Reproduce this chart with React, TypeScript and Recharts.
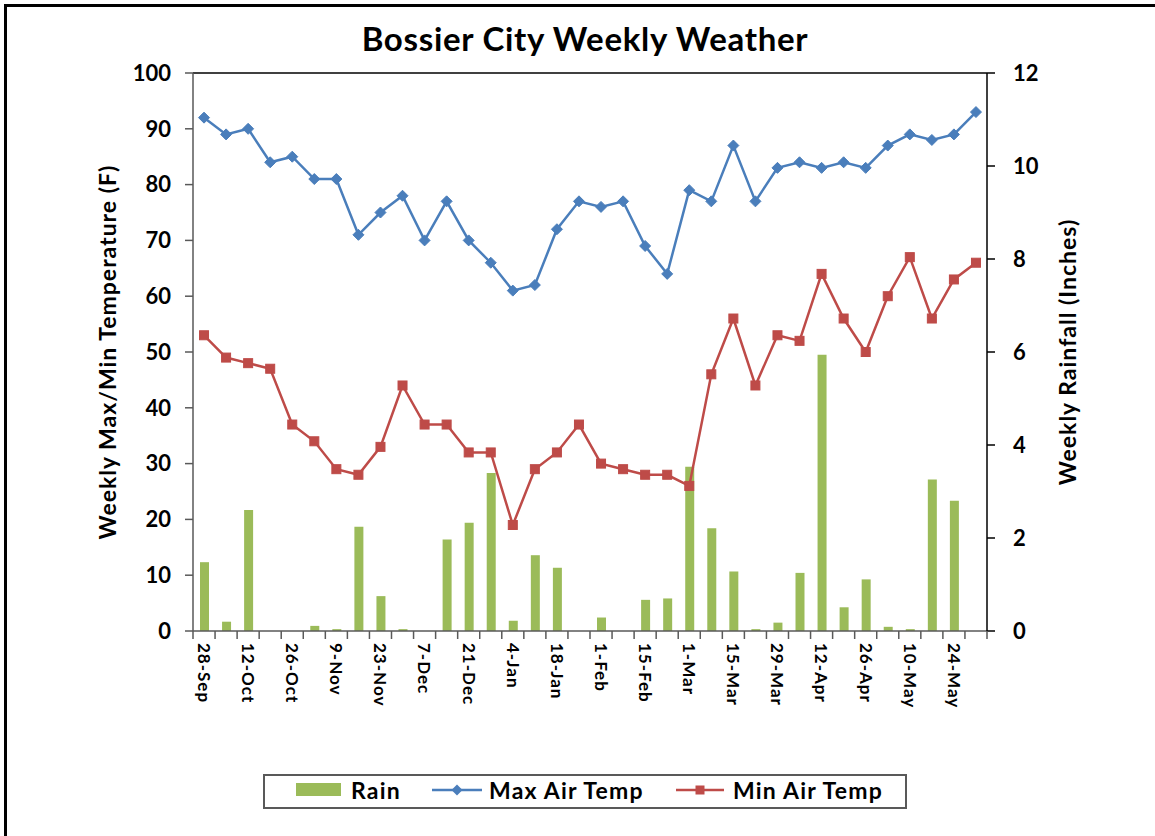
import { Bar, ComposedChart, Line, ReferenceLine, XAxis, YAxis } from "recharts";

const weeks = [
  "28-Sep", "5-Oct", "12-Oct", "19-Oct", "26-Oct", "2-Nov", "9-Nov", "16-Nov", "23-Nov",
  "30-Nov", "7-Dec", "14-Dec", "21-Dec", "28-Dec", "4-Jan", "11-Jan", "18-Jan", "25-Jan",
  "1-Feb", "8-Feb", "15-Feb", "22-Feb", "1-Mar", "8-Mar", "15-Mar", "22-Mar", "29-Mar",
  "5-Apr", "12-Apr", "19-Apr", "26-Apr", "3-May", "10-May", "17-May", "24-May", "31-May",
];

const maxAirTemp = [
  92, 89, 90, 84, 85, 81, 81, 71, 75, 78, 70, 77, 70, 66, 61, 62, 72, 77,
  76, 77, 69, 64, 79, 77, 87, 77, 83, 84, 83, 84, 83, 87, 89, 88, 89, 93,
];

const minAirTemp = [
  53, 49, 48, 47, 37, 34, 29, 28, 33, 44, 37, 37, 32, 32, 19, 29, 32, 37,
  30, 29, 28, 28, 26, 46, 56, 44, 53, 52, 64, 56, 50, 60, 67, 56, 63, 66,
];

const rain = [
  1.48, 0.2, 2.6, 0, 0, 0.11, 0.04, 2.24, 0.75, 0.04, 0, 1.97, 2.33, 3.4, 0.22, 1.63, 1.36, 0,
  0.29, 0, 0.67, 0.7, 3.53, 2.21, 1.28, 0.04, 0.18, 1.25, 5.94, 0.51, 1.11, 0.09, 0.04, 3.26, 2.8, 0,
];

const tempTicks = [0, 10, 20, 30, 40, 50, 60, 70, 80, 90, 100];
const rainTicks = [0, 2, 4, 6, 8, 10, 12];

const data = weeks.map((week, i) => ({
  week,
  rain: rain[i],
  maxTemp: maxAirTemp[i],
  minTemp: minAirTemp[i],
}));

const FONT = "Lato, 'Open Sans', sans-serif";
const BLUE = "#4A7EBB";
const RED = "#BE4B48";
const GREEN = "#9BBB59";
const AXIS = "#595959";

const Diamond = (props: any) => {
  const { cx, cy } = props;
  if (cx == null || cy == null) return null;
  const r = 5.5;
  return (
    <path
      d={`M${cx},${cy - r} L${cx + r},${cy} L${cx},${cy + r} L${cx - r},${cy} Z`}
      fill={BLUE}
      stroke={BLUE}
    />
  );
};

const Square = (props: any) => {
  const { cx, cy } = props;
  if (cx == null || cy == null) return null;
  return <rect x={cx - 4.5} y={cy - 4.5} width={9} height={9} fill={RED} stroke={RED} />;
};

// tick marks sit on the category boundaries, labels on every other week
const WeekTick = (props: any) => {
  const { x, y, payload, index } = props;
  const half = payload?.offset || 794 / 36 / 2;
  return (
    <g>
      <line x1={x - half} y1={y} x2={x - half} y2={y + 8} stroke={AXIS} strokeWidth={1.5} />
      {index === weeks.length - 1 && (
        <line x1={x + half} y1={y} x2={x + half} y2={y + 8} stroke={AXIS} strokeWidth={1.5} />
      )}
      {index % 2 === 0 && (
        <text
          transform={`translate(${x},${y + 12}) rotate(90)`}
          textAnchor="start"
          dy="0.36em"
          fontSize={17}
          fontWeight="bold"
          fontFamily={FONT}
          letterSpacing={1}
          fill="#000"
        >
          {payload.value}
        </text>
      )}
    </g>
  );
};

const tickStyle = { fontSize: 22, fontWeight: "bold", fill: "#000", fontFamily: FONT };
const axisTitleStyle = {
  fontSize: 23,
  fontWeight: "bold",
  fill: "#000",
  fontFamily: FONT,
  letterSpacing: 1,
  textAnchor: "middle",
};

const legendText = {
  position: "absolute" as const,
  top: 775,
  height: 30,
  lineHeight: "30px",
  fontSize: 23,
  fontWeight: "bold" as const,
  letterSpacing: 1.2,
  color: "#000",
  whiteSpace: "nowrap" as const,
};

export default function App() {
  return (
    <div
      style={{
        position: "fixed",
        left: 0,
        top: 0,
        width: 1155,
        height: 836,
        overflow: "hidden",
        background: "#fff",
        fontFamily: FONT,
      }}
    >
      <div
        style={{
          position: "absolute",
          left: 4,
          top: 4,
          width: 1300,
          height: 1000,
          border: "3px solid #000",
        }}
      />
      <div
        style={{
          position: "absolute",
          left: 0,
          top: 18,
          width: 1170,
          textAlign: "center",
          fontSize: 33,
          fontWeight: "bold",
          letterSpacing: 0.7,
        }}
      >
        Bossier City Weekly Weather
      </div>
      <div style={{ position: "absolute", left: 0, top: 0 }}>
        <ComposedChart
          width={1155}
          height={836}
          data={data}
          margin={{ top: 73, right: 0, bottom: 0, left: 0 }}
        >
          <XAxis
            dataKey="week"
            interval={0}
            height={205}
            tickLine={false}
            tickSize={0}
            tickMargin={0}
            axisLine={{ stroke: AXIS, strokeWidth: 1.5 }}
            tick={<WeekTick />}
          />
          <YAxis
            yAxisId="left"
            domain={[0, 100]}
            ticks={tempTicks}
            width={193}
            tickSize={8}
            tickMargin={14}
            axisLine={{ stroke: AXIS, strokeWidth: 1.5 }}
            tickLine={{ stroke: AXIS, strokeWidth: 1.5 }}
            tick={tickStyle}
            label={{
              value: "Weekly Max/Min Temperature (F)",
              angle: -90,
              position: "center",
              dx: 11,
              style: axisTitleStyle,
            }}
          />
          <YAxis
            yAxisId="right"
            orientation="right"
            domain={[0, 12]}
            ticks={rainTicks}
            width={168}
            tickSize={8}
            tickMargin={18}
            axisLine={{ stroke: "#000", strokeWidth: 1.5 }}
            tickLine={{ stroke: "#000", strokeWidth: 1.5 }}
            tick={{ ...tickStyle, textAnchor: "start" }}
            label={{
              value: "Weekly Rainfall (Inches)",
              angle: -90,
              position: "center",
              dx: -3,
              style: axisTitleStyle,
            }}
          />
          <ReferenceLine yAxisId="left" y={100} stroke="#000" strokeWidth={1.5} />
          <Bar
            yAxisId="right"
            dataKey="rain"
            name="Rain"
            fill={GREEN}
            barSize={9}
            isAnimationActive={false}
          />
          <Line
            yAxisId="left"
            dataKey="maxTemp"
            name="Max Air Temp"
            stroke={BLUE}
            strokeWidth={2.5}
            dot={<Diamond />}
            activeDot={false}
            isAnimationActive={false}
          />
          <Line
            yAxisId="left"
            dataKey="minTemp"
            name="Min Air Temp"
            stroke={RED}
            strokeWidth={2.5}
            dot={<Square />}
            activeDot={false}
            isAnimationActive={false}
          />
        </ComposedChart>
      </div>
      {/* legend */}
      <div
        style={{
          position: "absolute",
          left: 263,
          top: 774,
          width: 640,
          height: 31,
          border: "2px solid #595959",
        }}
      />
      <svg
        width={1155}
        height={836}
        style={{ position: "absolute", left: 0, top: 0, pointerEvents: "none" }}
      >
        <rect x={296} y={783} width={45} height={13} fill={GREEN} />
        <line x1={432} y1={790} x2={482} y2={790} stroke={BLUE} strokeWidth={2.5} />
        <path d="M457,784.5 L462.5,790 L457,795.5 L451.5,790 Z" fill={BLUE} />
        <line x1={676} y1={790} x2={724} y2={790} stroke={RED} strokeWidth={2.5} />
        <rect x={695.5} y={785.5} width={9} height={9} fill={RED} />
      </svg>
      <div style={{ ...legendText, left: 351 }}>Rain</div>
      <div style={{ ...legendText, left: 489 }}>Max Air Temp</div>
      <div style={{ ...legendText, left: 733 }}>Min Air Temp</div>
    </div>
  );
}
